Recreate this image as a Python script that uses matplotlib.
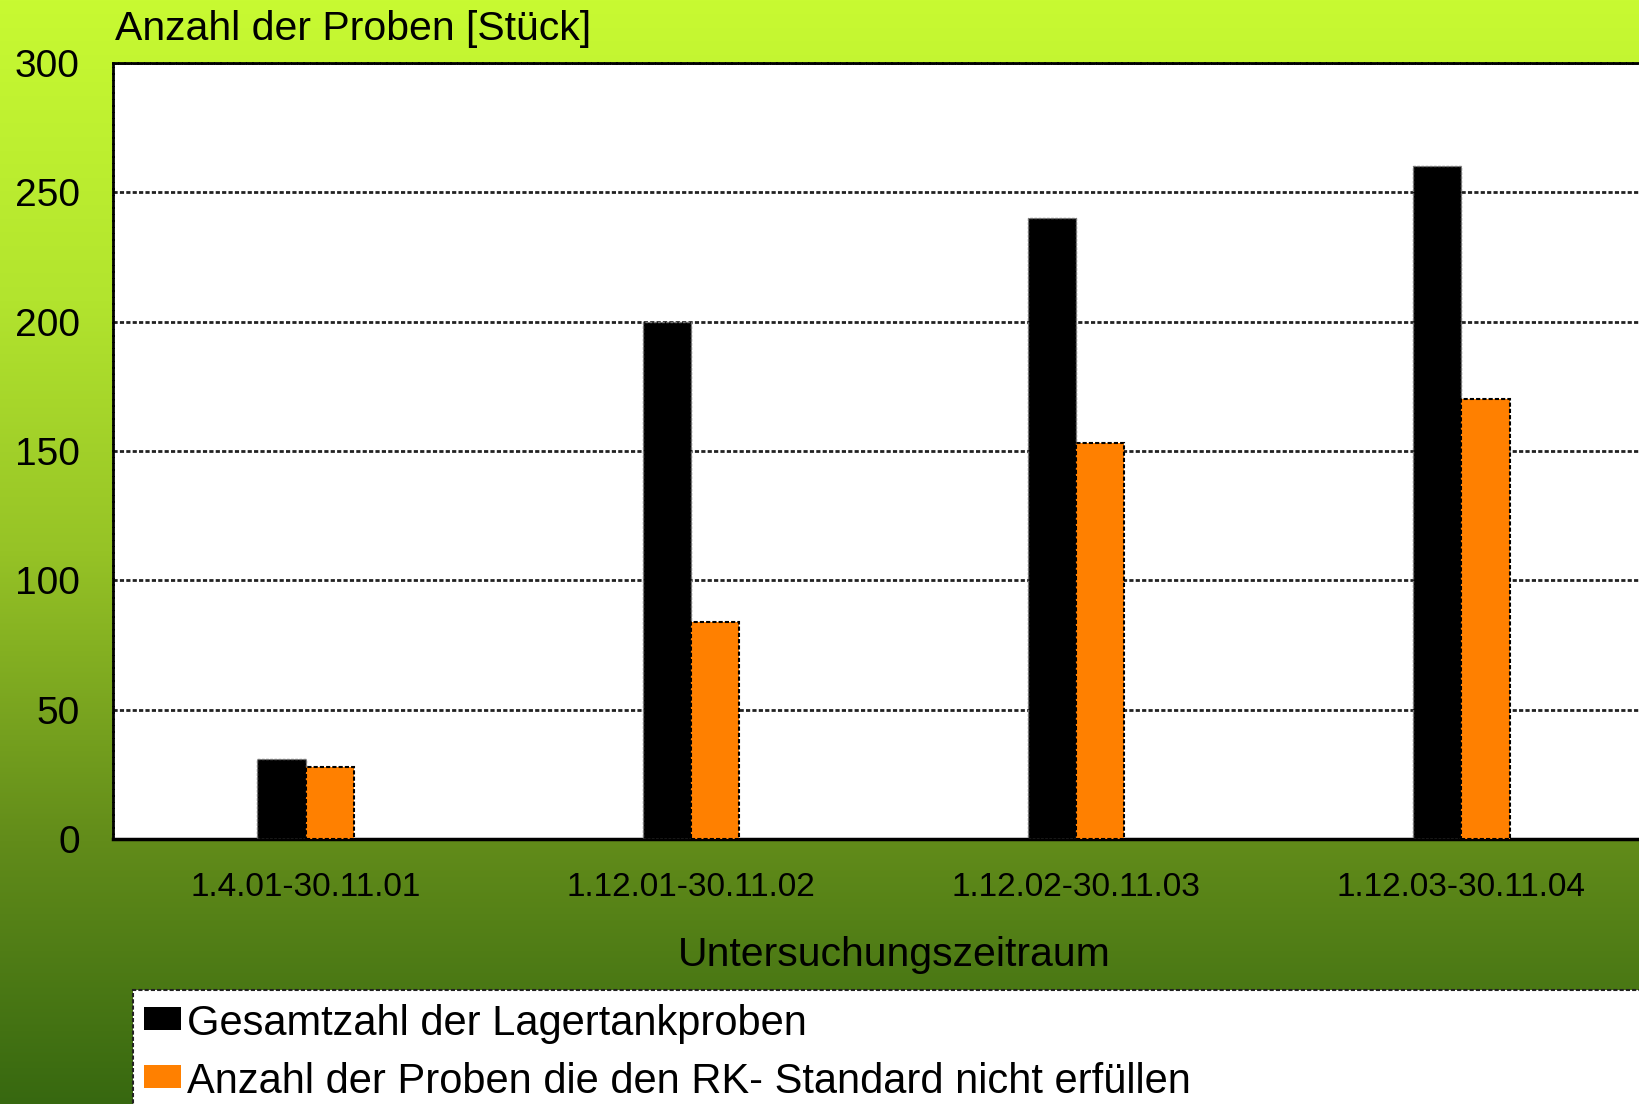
import numpy as np
import matplotlib
matplotlib.use("Agg")
import matplotlib.pyplot as plt
from matplotlib.patches import Rectangle

plt.rcParams['font.family'] = ['Liberation Sans', 'DejaVu Sans']

periods = ['1.4.01-30.11.01', '1.12.01-30.11.02', '1.12.02-30.11.03', '1.12.03-30.11.04']
total_samples = [31, 200, 240, 260]
failed_samples = [28, 84, 153, 170]
series_names = ['Gesamtzahl der Lagertankproben',
                'Anzahl der Proben die den RK- Standard nicht erfüllen']
series_colors = ['#000000', '#ff8000']

W, H = 1639, 1104
fig = plt.figure(figsize=(W / 100, H / 100), dpi=100)

# background gradient, yellow-green at top to dark green at bottom
stops_y = [0, 300, 550, 840, 1104]
stops_c = np.array([[200, 250, 50], [178, 228, 46], [150, 195, 38],
                    [98, 140, 26], [55, 104, 16]]) / 255
yy = np.arange(H)
grad = np.stack([np.interp(yy, stops_y, stops_c[:, k]) for k in range(3)], axis=1)
bg = fig.add_axes([0, 0, 1, 1], zorder=-10)
bg.imshow(grad[:, None, :], aspect='auto', extent=[0, 1, 0, 1])
bg.axis('off')

ax = fig.add_axes([113 / W, 1 - 839 / H, 1541 / W, 776 / H])
ax.set_facecolor('white')
x = np.arange(len(periods))
w = 0.125
ax.bar(x - w / 2, total_samples, w, color=series_colors[0], edgecolor='#777777',
       linewidth=1, linestyle=(0, (2, 1)), zorder=3)
ax.bar(x + w / 2, failed_samples, w, color=series_colors[1], edgecolor='#000000',
       linewidth=1.5, linestyle=(0, (2, 1)), zorder=3)

ax.set_xlim(-0.5, 3.5)
ax.set_ylim(0, 300)
ax.set_yticks(range(0, 301, 50))
ax.set_xticks(x)
ax.set_xticklabels(periods, fontsize=24)
ax.tick_params(axis='y', length=0, pad=24, labelsize=28)
ax.tick_params(axis='x', length=0, pad=24)
ax.yaxis.grid(True, color='#222222', linewidth=2, linestyle=(0, (1.5, 0.8)), zorder=1)
ax.set_axisbelow(True)
for side in ['left', 'top']:
    ax.spines[side].set_linestyle((0, (1.5, 0.8)))
    ax.spines[side].set_linewidth(2)
ax.spines['bottom'].set_linewidth(2.5)
ax.spines['bottom'].set_linestyle((0, (3, 1)))
ax.spines['right'].set_visible(False)

fig.text(115 / W, 1 - 29 / H, 'Anzahl der Proben [Stück]', fontsize=29.5,
         ha='left', va='center')
fig.text(894 / W, 1 - 955 / H, 'Untersuchungszeitraum', fontsize=29.5,
         ha='center', va='center')

# legend box running off the right and bottom edge
fig.patches.append(Rectangle((133 / W, -0.05), 1.0, (1 - 990 / H) + 0.05,
                             transform=fig.transFigure, facecolor='white',
                             edgecolor='#222222', linewidth=1.5,
                             linestyle=(0, (2, 1)), zorder=5))
for i, (name, col) in enumerate(zip(series_names, series_colors)):
    top = 1007 + i * 58
    fig.patches.append(Rectangle((144 / W, 1 - (top + 23) / H), 37 / W, 23 / H,
                                 transform=fig.transFigure, facecolor=col,
                                 edgecolor='none', zorder=6))
    fig.text(187 / W, 1 - (top + 17) / H, name, fontsize=30, ha='left',
             va='center', zorder=7)

fig.savefig('out.png', dpi=100)
